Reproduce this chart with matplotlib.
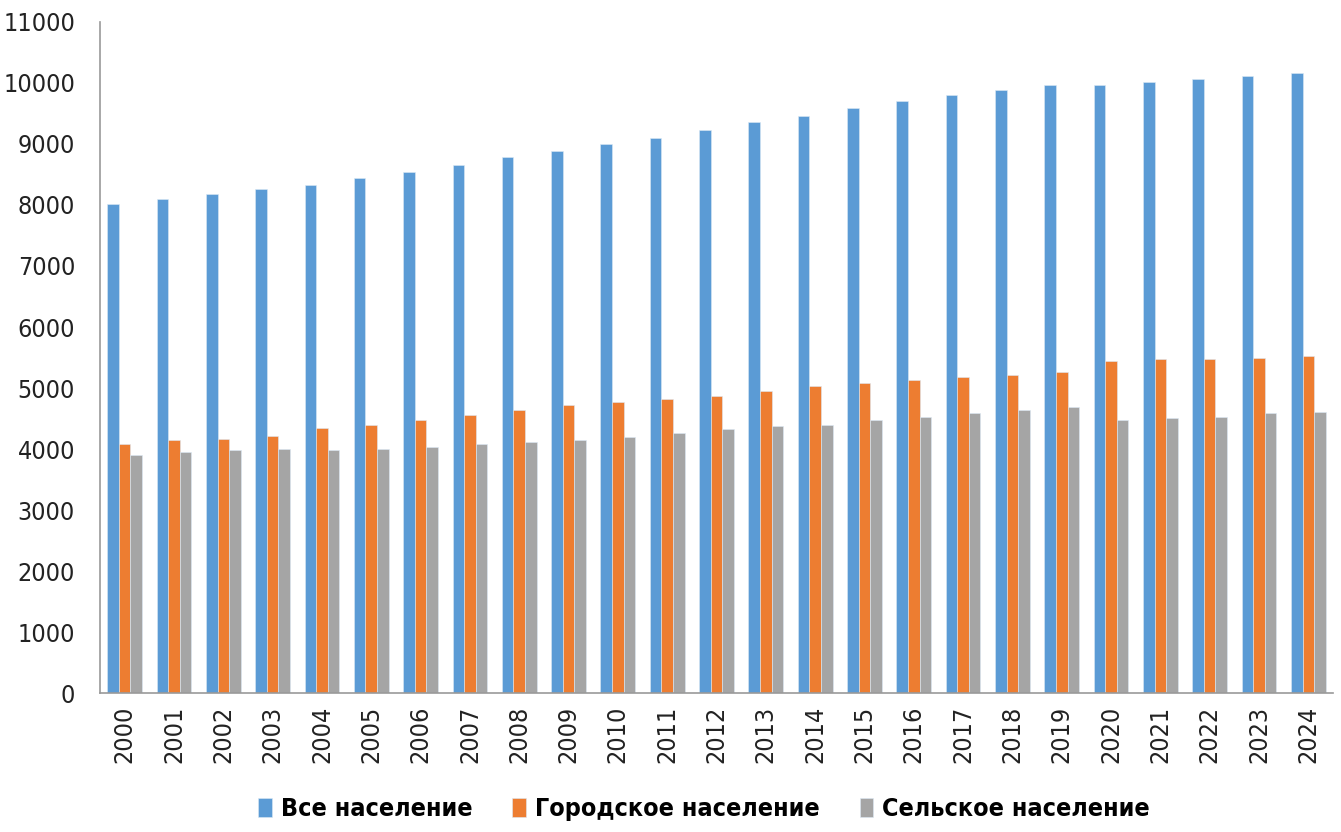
import matplotlib
matplotlib.use('Agg')
import matplotlib.pyplot as plt
from matplotlib import font_manager as fm
import numpy as np

years = [str(y) for y in range(2000, 2025)]
total = [8020, 8100, 8175, 8257, 8333, 8438, 8546, 8651, 8782, 8890,
         8995, 9098, 9230, 9361, 9464, 9595, 9700, 9808, 9885, 9962,
         9962, 10011, 10066, 10120, 10169]
urban = [4077, 4143, 4159, 4213, 4344, 4393, 4475, 4552, 4634, 4716,
         4770, 4820, 4869, 4951, 5028, 5082, 5136, 5186, 5213, 5268,
         5448, 5470, 5470, 5497, 5530]
rural = [3896, 3951, 3979, 4005, 3979, 4005, 4028, 4082, 4110, 4143,
         4192, 4267, 4323, 4372, 4399, 4481, 4530, 4585, 4634, 4689,
         4481, 4503, 4530, 4585, 4612]
series_names = ["Все население", "Городское население", "Сельское население"]
colors = ["#5B9BD5", "#ED7D31", "#A5A5A5"]


def _pick_condensed():
    # look for any narrow / condensed face installed
    for f in fm.fontManager.ttflist:
        st = str(f.stretch).lower()
        if "condensed" in st or "narrow" in f.name.lower() or "condensed" in f.name.lower():
            return f.name, f.stretch
    return None, None


cond_name, cond_stretch = _pick_condensed()
if cond_name:
    plt.rcParams['font.family'] = [cond_name, 'DejaVu Sans']
    plt.rcParams['font.stretch'] = cond_stretch
    tick_size, leg_size = 18, 18
else:
    plt.rcParams['font.family'] = ['Roboto', 'DejaVu Sans']
    tick_size, leg_size = 16, 16

fig = plt.figure(figsize=(13.41, 8.32), dpi=100)
ax = fig.add_axes([0.0746, 0.167, 0.9194, 0.8066])

x = np.arange(len(years))
w = 0.235
for i, (vals, name, c) in enumerate(zip([total, urban, rural], series_names, colors)):
    ax.bar(x + (i - 1) * w, vals, w, color=c, label=name,
           edgecolor="#dce9f5", linewidth=0.4)

ax.set_xlim(-0.5, len(years) - 0.5)
ax.set_ylim(0, 11000)
ax.set_yticks(np.arange(0, 11001, 1000))
ax.set_xticks(x)
ax.set_xticklabels(years, rotation=90)
ax.tick_params(axis='both', length=0, labelsize=tick_size, colors="#222222")
ax.tick_params(axis='y', pad=18)
ax.tick_params(axis='x', pad=9)
for s in ["top", "right"]:
    ax.spines[s].set_visible(False)
for s in ["left", "bottom"]:
    ax.spines[s].set_color("#999999")
    ax.spines[s].set_linewidth(1.2)

ax.legend(loc="upper center", bbox_to_anchor=(0.49, -0.122), ncol=3,
          frameon=False, handlelength=0.55, handleheight=0.8,
          handletextpad=0.35, columnspacing=1.6,
          prop={"size": leg_size, "weight": "bold"})

plt.savefig("out.png", dpi=100)
